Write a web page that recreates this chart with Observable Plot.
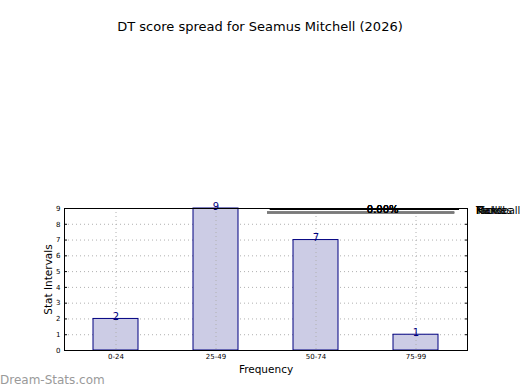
<!DOCTYPE html>
<html>
<head>
<meta charset="utf-8">
<script src="https://cdn.jsdelivr.net/npm/d3@7"></script>
<script src="https://cdn.jsdelivr.net/npm/@observablehq/plot@0.6"></script>
<style>
  html, body { margin: 0; padding: 0; background: #fff; }
  #wrap { position: relative; width: 520px; height: 390px; overflow: hidden; font-family: "DejaVu Sans", sans-serif; }
  #title { position: absolute; left: 0; top: 19px; width: 520px; text-align: center; font-size: 13px; color: #000; }
  #mark { position: absolute; left: 0; top: 373px; font-size: 12px; color: #9a9a9a; font-weight: normal; }
  #main, #pie { position: absolute; left: 0; top: 0; }
  #legend { position: absolute; left: 476px; top: 205px; font-size: 10px; color: #000; }
  #legend span { position: absolute; left: 0; top: 0; white-space: nowrap; }
</style>
</head>
<body>
<div id="wrap">
  <div id="title">DT score spread for Seamus Mitchell (2026)</div>
  <div id="main"></div>
  <div id="pie"></div>
  <div id="legend"></div>
  <div id="mark">Dream-Stats.com</div>
</div>
<script>
const categories = ["0-24", "25-49", "50-74", "75-99"];
const counts = [2, 9, 7, 1];
const yTicks = [0, 1, 2, 3, 4, 5, 6, 7, 8, 9];
const pieLabels = ["Kicks", "Marks", "Tackles", "Handball"];
const pieValues = [0, 0, 0, 0];

const data = categories.map((c, i) => ({cat: c, n: counts[i]}));

const chart = Plot.plot({
  width: 520,
  height: 390,
  marginLeft: 64,
  marginRight: 53,
  marginTop: 208,
  marginBottom: 40,
  style: {fontFamily: "DejaVu Sans, sans-serif", background: "transparent"},
  x: {domain: categories, paddingInner: 0.55, paddingOuter: 0.275, label: null},
  y: {domain: [0, 9], label: null},
  marks: [
    Plot.gridY(yTicks, {stroke: "#b0b0b0", strokeOpacity: 1, strokeDasharray: "1,3"}),
    Plot.barY(data, {x: "cat", y: "n", fill: "#ccccE5", stroke: "#000080", strokeWidth: 1}),
    Plot.gridX(categories, {stroke: "#b0b0b0", strokeOpacity: 1, strokeDasharray: "1,3"}),
    Plot.text(data, {x: "cat", y: "n", text: d => String(d.n), fill: "#000080", lineAnchor: "bottom", dy: 1, fontSize: 10}),
    Plot.axisY(yTicks, {tickSize: -3, tickPadding: 7, fontSize: 7, label: null, stroke: "#000"}),
    Plot.axisY(yTicks, {anchor: "right", tickSize: -3, tickFormat: () => "", label: null}),
    Plot.axisX(categories, {tickSize: 0, tickPadding: 4, fontSize: 7, label: null}),
    Plot.frame({stroke: "#000", strokeWidth: 1}),
    Plot.text(["Stat Intervals"], {frameAnchor: "left", textAnchor: "middle", dx: -16, rotate: -90, fontSize: 10.5, fill: "#000"}),
    Plot.text(["Frequency"], {frameAnchor: "bottom", dy: 22, fontSize: 10.5, fill: "#000"})
  ]
});
document.getElementById("main").appendChild(chart);

// Degenerate (flattened) pie overlay: all slices are zero
const slices = d3.pie().sort(null)(pieValues).map((s, i) => ({label: pieLabels[i], value: pieValues[i], a: s.startAngle}));
const total = d3.sum(pieValues);
const pie = Plot.plot({
  width: 520,
  height: 390,
  marginLeft: 267,
  marginRight: 61,
  marginTop: 207,
  marginBottom: 176,
  style: {background: "transparent"},
  x: {domain: [-1, 1], axis: null},
  y: {domain: [-1, 1], axis: null},
  marks: [
    Plot.ruleY(slices, {y: () => -0.45, x1: -1, x2: 0.95, stroke: "#7a7a7a", strokeWidth: 2}),
    Plot.ruleY(slices, {y: () => 0.5, x1: -0.97, x2: 1, stroke: "#000", strokeWidth: 1}),
    Plot.text(slices, {x: () => 0.2, y: () => 0.3, text: d => (total ? d.value / total * 100 : 0).toFixed(2) + "%", fontSize: 10, fill: "#000", fontFamily: "DejaVu Sans, sans-serif"})
  ]
});
document.getElementById("pie").appendChild(pie);

const leg = document.getElementById("legend");
pieLabels.forEach(l => {
  const s = document.createElement("span");
  s.textContent = l;
  leg.appendChild(s);
});
</script>
</body>
</html>
